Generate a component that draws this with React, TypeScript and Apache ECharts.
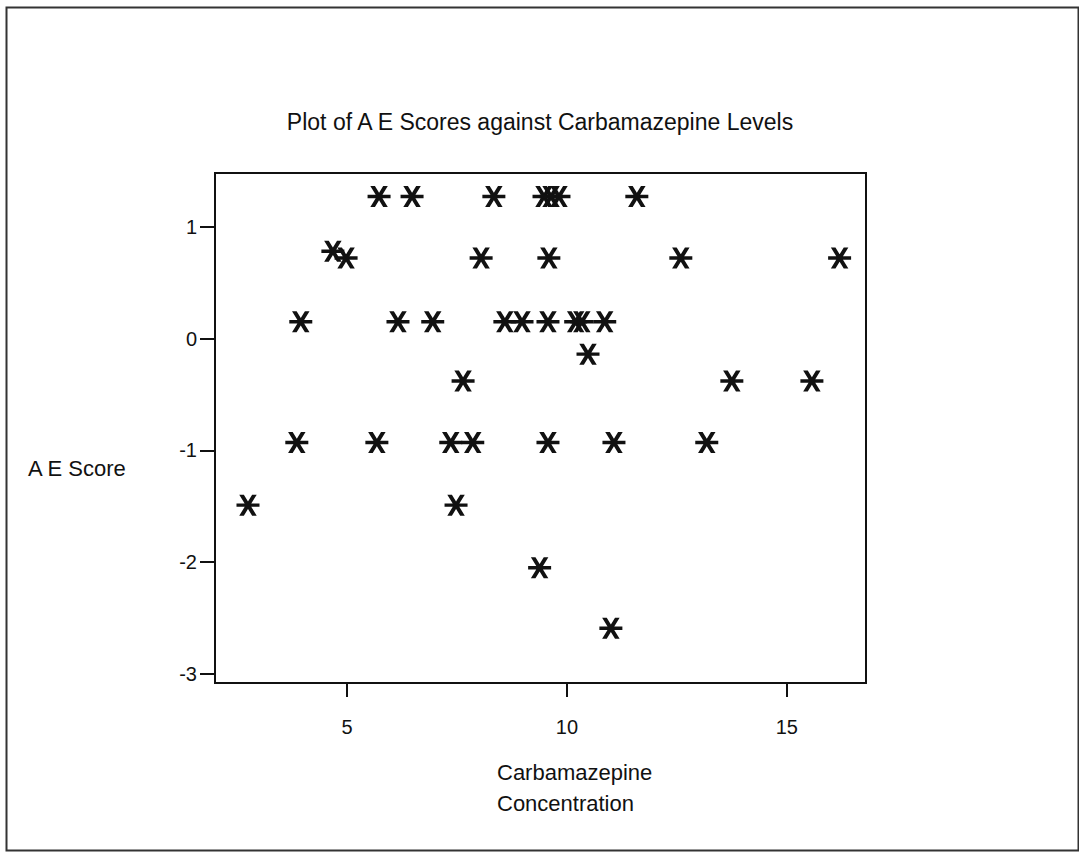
import React, { useEffect, useRef } from "react";
import * as echarts from "echarts";

const chartTitle = "Plot of A E Scores against Carbamazepine Levels";
const yAxisTitle = "A E Score";
const xAxisTitleLines = ["Carbamazepine", "Concentration"];

const xTicks = [5, 10, 15];
const yTicks = [1, 0, -1, -2, -3];

const concentration = [
  5.73, 6.48, 8.34, 9.48, 9.64, 9.82, 11.59,
  4.68,
  4.98, 8.05, 9.59, 12.59, 16.2,
  3.95, 6.16, 6.95, 8.59, 8.98, 9.57, 10.2, 10.34, 10.86,
  10.48,
  7.64, 13.75, 15.57,
  3.86, 5.68, 7.36, 7.86, 9.57, 11.07, 13.18,
  2.75, 7.48,
  9.38,
  11.0,
];
const aeScore = [
  1.27, 1.27, 1.27, 1.27, 1.27, 1.27, 1.27,
  0.78,
  0.72, 0.72, 0.72, 0.72, 0.72,
  0.15, 0.15, 0.15, 0.15, 0.15, 0.15, 0.15, 0.15, 0.15,
  -0.14,
  -0.38, -0.38, -0.38,
  -0.93, -0.93, -0.93, -0.93, -0.93, -0.93, -0.93,
  -1.49, -1.49,
  -2.05,
  -2.59,
];

const starPath =
  "path://M12 0 L32 0 L88 100 L68 100 Z M68 0 L88 0 L32 100 L12 100 Z M0 42 L100 42 L100 58 L0 58 Z";

export default function App() {
  const ref = useRef<HTMLDivElement>(null);
  useEffect(() => {
    if (!ref.current) return;
    const chart = echarts.init(ref.current, null, { renderer: "svg" });
    const font = "'Liberation Sans', Arial, sans-serif";
    chart.setOption({
      animation: false,
      backgroundColor: "#ffffff",
      grid: {
        left: 215,
        top: 173,
        width: 651,
        height: 510,
        show: true,
        borderColor: "#111",
        borderWidth: 2,
        backgroundColor: "transparent",
      },
      xAxis: {
        type: "value",
        min: 2,
        max: 16.8,
        axisLine: { show: true, onZero: false, lineStyle: { color: "#111", width: 2 } },
        axisTick: {
          show: true,
          inside: false,
          length: 14,
          lineStyle: { color: "#111", width: 2 },
          customValues: xTicks,
        },
        axisLabel: {
          show: true,
          margin: 34,
          color: "#111",
          fontSize: 20,
          fontFamily: font,
          customValues: xTicks,
        },
        splitLine: { show: false },
      },
      yAxis: {
        type: "value",
        min: -3.08,
        max: 1.48,
        axisLine: { show: true, onZero: false, lineStyle: { color: "#111", width: 2 } },
        axisTick: {
          show: true,
          inside: false,
          length: 15,
          lineStyle: { color: "#111", width: 2 },
          customValues: yTicks,
        },
        axisLabel: {
          show: true,
          margin: 18,
          color: "#111",
          fontSize: 20,
          fontFamily: font,
          customValues: yTicks,
        },
        splitLine: { show: false },
      },
      series: [
        {
          type: "scatter",
          data: concentration.map((x, i) => [x, aeScore[i]]),
          symbol: starPath,
          symbolSize: [23, 21],
          itemStyle: { color: "#111", opacity: 1 },
        },
      ],
      graphic: [
        {
          type: "rect",
          left: 4,
          top: 5,
          shape: { width: 1072, height: 843 },
          style: { fill: "none", stroke: "#333", lineWidth: 2 },
          z: -1,
        },
        {
          type: "text",
          x: 540,
          y: 122,
          style: {
            text: chartTitle,
            fill: "#111",
            font: `23px ${font}`,
            textAlign: "center",
            textVerticalAlign: "middle",
          },
        },
        {
          type: "text",
          x: 28,
          y: 468,
          style: {
            text: yAxisTitle,
            fill: "#111",
            font: `22px ${font}`,
            textAlign: "left",
            textVerticalAlign: "middle",
          },
        },
        {
          type: "text",
          x: 497,
          y: 772,
          style: {
            text: xAxisTitleLines[0],
            fill: "#111",
            font: `22px ${font}`,
            textAlign: "left",
            textVerticalAlign: "middle",
          },
        },
        {
          type: "text",
          x: 497,
          y: 803,
          style: {
            text: xAxisTitleLines[1],
            fill: "#111",
            font: `22px ${font}`,
            textAlign: "left",
            textVerticalAlign: "middle",
          },
        },
      ],
    });
    return () => chart.dispose();
  }, []);
  return (
    <div
      ref={ref}
      style={{ position: "fixed", left: 0, top: 0, width: 1079, height: 852 }}
    />
  );
}
